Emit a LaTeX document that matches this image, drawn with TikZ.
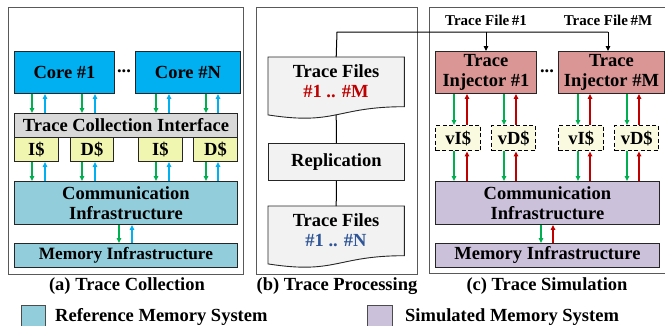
\documentclass[tikz,border=0pt]{standalone}
\usepackage{fontspec}
\setmainfont{Liberation Serif}
\usetikzlibrary{arrows.meta,calc}
\definecolor{corecol}{HTML}{00B0F0}
\definecolor{tcicol}{HTML}{D9D9D9}
\definecolor{cachecol}{HTML}{F0F5B0}
\definecolor{vcachecol}{HTML}{FAFAE0}
\definecolor{refcol}{HTML}{92CDDC}
\definecolor{simcol}{HTML}{CCC1DA}
\definecolor{injcol}{HTML}{D99694}
\definecolor{doccol}{HTML}{F2F2F2}
\definecolor{grn}{HTML}{00B050}
\definecolor{blu}{HTML}{00B0F0}
\definecolor{redd}{HTML}{C00000}
\definecolor{bluetxt}{HTML}{2E5597}
\definecolor{framecol}{HTML}{595959}
\tikzset{
  bigfont/.style={font=\fontsize{18.5}{20.5}\selectfont\bfseries},
  box/.style={draw=black!85, line width=0.9pt, inner sep=0pt, anchor=north west, bigfont, align=center},
  panel/.style={draw=framecol, line width=1pt},
  garrow/.style={draw=grn, line width=1.3pt, -{Triangle[length=5pt,width=4.5pt]}},
  barrow/.style={draw=blu, line width=1.3pt, -{Triangle[length=5pt,width=4.5pt]}},
  rarrow/.style={draw=redd, line width=1.3pt, -{Triangle[length=5pt,width=4.5pt]}},
  karrow/.style={draw=black, line width=1pt, -{Triangle[length=5pt,width=4.5pt]}},
  kline/.style={draw=black, line width=1pt},
  caption/.style={bigfont},
  smallfont/.style={font=\fontsize{15}{17}\selectfont\bfseries},
}
\begin{document}
\begin{tikzpicture}[x=1pt,y=-1pt]
\useasboundingbox (0,0) rectangle (665,325);
% ---------- panel (a)
\draw[panel] (8,7) rectangle (243,274);
\node[box, fill=corecol, minimum width=100pt, minimum height=42pt] (core1) at (14,51) {Core \#1};
\node[box, fill=corecol, minimum width=105pt, minimum height=42pt] (coreN) at (135,51) {Core \#N};
\node[bigfont] (dotsa) at (124,71) {...};
\node[box, fill=tcicol, minimum width=223pt, minimum height=24pt] (tci) at (14,113) {Trace Collection Interface};
\node[box, fill=cachecol, minimum width=44pt, minimum height=24pt] (ia) at (14,137) {I\$};
\node[box, fill=cachecol, minimum width=43pt, minimum height=24pt] (da) at (70,137) {D\$};
\node[box, fill=cachecol, minimum width=44pt, minimum height=24pt] (ib) at (138,137) {I\$};
\node[box, fill=cachecol, minimum width=44pt, minimum height=24pt] (db) at (193,137) {D\$};
\node[box, fill=refcol, minimum width=223pt, minimum height=43pt] (comma) at (14,181) {Communication\\Infrastructure};
\node[box, fill=refcol, minimum width=223pt, minimum height=24pt, font=\fontsize{17.3}{19}\selectfont\bfseries] (mema) at (14,243) {Memory Infrastructure};
\foreach \g/\b in {32/45,82/95}{
  \draw[garrow] (core1.south -| \g,0) -- (tci.north -| \g,0);
  \draw[barrow] (tci.north -| \b,0) -- (core1.south -| \b,0);
}
\foreach \g/\b in {156/169,206/218}{
  \draw[garrow] (coreN.south -| \g,0) -- (tci.north -| \g,0);
  \draw[barrow] (tci.north -| \b,0) -- (coreN.south -| \b,0);
}
\foreach \g/\b in {32/45,82/95,156/169,206/218}{
  \draw[garrow] (ia.south -| \g,0) -- (comma.north -| \g,0);
  \draw[barrow] (comma.north -| \b,0) -- (ia.south -| \b,0);
}
\draw[garrow] (comma.south -| 119,0) -- (mema.north -| 119,0);
\draw[barrow] (mema.north -| 132,0) -- (comma.south -| 132,0);
\node[caption] (capa) at (127,286) {(a) Trace Collection};
% ---------- panel (b)
\draw[panel] (256,7) rectangle (417,274);
\node[inner sep=0pt, anchor=north west, minimum width=136pt, minimum height=62pt] (tf1) at (268,57) {};
\draw[line width=0.9pt, draw=black!85, fill=doccol] (tf1.north west) -- (tf1.north east) -- ($(tf1.north east)+(0,49.7)$)
  .. controls ($(tf1.north)+(0,49.7)$) and ($(tf1.north)+(0,68.6)$) .. ($(tf1.north west)+(0,57.9)$) -- cycle;
\node[bigfont, align=center] (tf1t) at (336,81) {Trace Files\\\textcolor{redd}{\#1 .. \#M}};
\node[box, fill=doccol, minimum width=136pt, minimum height=37pt] (rep) at (268,143) {Replication};
\node[inner sep=0pt, anchor=north west, minimum width=136pt, minimum height=62pt] (tf2) at (268,206) {};
\draw[line width=0.9pt, draw=black!85, fill=doccol] (tf2.north west) -- (tf2.north east) -- ($(tf2.north east)+(0,49.7)$)
  .. controls ($(tf2.north)+(0,49.7)$) and ($(tf2.north)+(0,68.6)$) .. ($(tf2.north west)+(0,57.9)$) -- cycle;
\node[bigfont, align=center] (tf2t) at (336,230) {Trace Files\\\textcolor{bluetxt}{\#1 .. \#N}};
\draw[kline] ($(tf1.north)+(0,57.8)$) -- (rep.north);
\draw[kline] (rep.south) -- (tf2.north);
\node[caption] (capb) at (337,286) {(b) Trace Processing};
% ---------- panel (c)
\draw[panel] (429,7) rectangle (668,273);
\node[smallfont] (lab1) at (486,20) {Trace File\,\#1};
\node[smallfont] (labM) at (608,20) {Trace File\,\#M};
\node[box, fill=injcol, minimum width=101pt, minimum height=42pt] (inj1) at (435,51) {Trace\\Injector \#1};
\node[box, fill=injcol, minimum width=106pt, minimum height=42pt] (injM) at (558,51) {Trace\\Injector \#M};
\node[bigfont] (dotsc) at (547,71) {...};
\coordinate (corner1) at (337,32);
\coordinate (splitp) at (486,32);
\coordinate (cornerM) at (608,32);
\draw[kline] (tf1.north) -- (corner1) -- (cornerM);
\draw[karrow] (cornerM) -- (injM.north -| cornerM);
\draw[karrow] (splitp) -- (inj1.north -| splitp);
\tikzset{vbox/.style={box, draw=black, fill=vcachecol, dash pattern=on 4pt off 2.5pt, line width=1.4pt, minimum height=25pt}}
\node[vbox, minimum width=45pt] (via) at (435,125) {vI\$};
\node[vbox, minimum width=44pt] (vda) at (491,125) {vD\$};
\node[vbox, minimum width=45pt] (vib) at (558,125) {vI\$};
\node[vbox, minimum width=44pt] (vdb) at (614,125) {vD\$};
\node[box, fill=simcol, minimum width=224pt, minimum height=43pt] (commc) at (435,181) {Communication\\Infrastructure};
\node[box, fill=simcol, minimum width=224pt, minimum height=24pt] (memc) at (435,243) {Memory Infrastructure};
\foreach \g/\r in {454/467,504/516}{
  \draw[garrow] (inj1.south -| \g,0) -- (via.north -| \g,0);
  \draw[rarrow] (via.north -| \r,0) -- (inj1.south -| \r,0);
}
\foreach \g/\r in {578/590,627/639}{
  \draw[garrow] (injM.south -| \g,0) -- (vib.north -| \g,0);
  \draw[rarrow] (vib.north -| \r,0) -- (injM.south -| \r,0);
}
\foreach \g/\r in {454/467,504/516,578/590,627/639}{
  \draw[garrow] (via.south -| \g,0) -- (commc.north -| \g,0);
  \draw[rarrow] (commc.north -| \r,0) -- (via.south -| \r,0);
}
\draw[garrow] (commc.south -| 541,0) -- (memc.north -| 541,0);
\draw[rarrow] (memc.north -| 553,0) -- (commc.south -| 553,0);
\node[caption] (capc) at (547,286) {(c) Trace Simulation};
% ---------- legend
\draw[draw=black!70, line width=0.9pt, fill=refcol] (21,305) rectangle (45,330);
\node[bigfont, anchor=west, inner sep=0pt] (legref) at (55,317) {Reference Memory System};
\draw[draw=black!70, line width=0.9pt, fill=simcol] (367,305) rectangle (392,330);
\node[bigfont, anchor=west, inner sep=0pt] (legsim) at (405,317) {Simulated Memory System};
\end{tikzpicture}
\end{document}
